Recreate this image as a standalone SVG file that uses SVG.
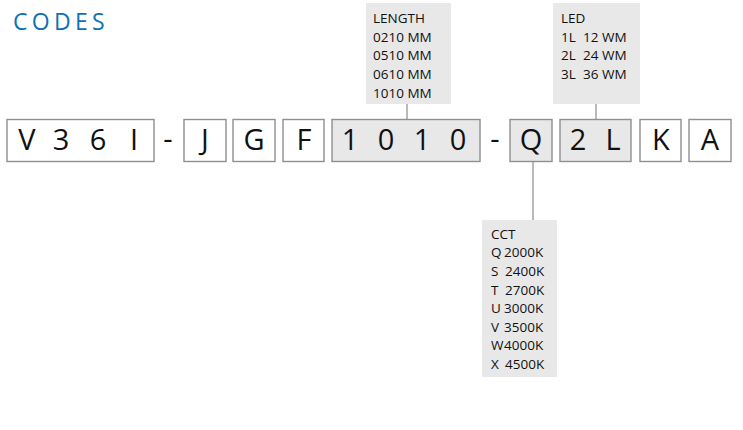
<svg xmlns="http://www.w3.org/2000/svg" width="743" height="430" viewBox="0 0 743 430">
<style>
.box{stroke:#8f8f8f;stroke-width:1.4}
.w{fill:#ffffff}
.g{fill:#e8e8e8}
.lbl{fill:#e8e8e8}
.big{font-family:"Open Sans","Noto Sans",sans-serif;font-size:29px;fill:#111;text-anchor:middle}
.sm{font-family:"Open Sans","Noto Sans",sans-serif;font-size:13.5px;fill:#111}
.conn{stroke:#8a8a8a;stroke-width:1.2;fill:none}
</style>
<rect width="743" height="430" fill="#ffffff"/>
<text x="13" y="29.5" font-family="'Open Sans','Noto Sans',sans-serif" font-size="23" font-weight="500" letter-spacing="4.3" fill="#0f6fb7">CODES</text>
<g id="connectors">
<line class="conn" x1="407" y1="104" x2="407" y2="120"/>
<line class="conn" x1="596" y1="104" x2="596" y2="120"/>
<line class="conn" x1="533" y1="162" x2="533" y2="220"/>
</g>
<g id="length">
<rect class="lbl" x="366" y="3" width="85" height="101"/>
<text class="sm" x="373" y="23">LENGTH</text>
<text class="sm" x="373" y="41.5">0210 MM</text>
<text class="sm" x="373" y="60">0510 MM</text>
<text class="sm" x="373" y="79">0610 MM</text>
<text class="sm" x="373" y="97.5">1010 MM</text>
</g>
<g id="led">
<rect class="lbl" x="553" y="3" width="87" height="101"/>
<text class="sm" x="561" y="23">LED</text>
<text class="sm" x="561" y="41.5">1L<tspan x="583">12 WM</tspan></text>
<text class="sm" x="561" y="60">2L<tspan x="583">24 WM</tspan></text>
<text class="sm" x="561" y="79">3L<tspan x="583">36 WM</tspan></text>
</g>
<g id="cct">
<rect class="lbl" x="482" y="220" width="75" height="157"/>
<text class="sm" x="491" y="238.5">CCT</text>
<text class="sm" x="491" y="257">Q<tspan x="504">2000K</tspan></text>
<text class="sm" x="491" y="276">S<tspan x="505">2400K</tspan></text>
<text class="sm" x="491" y="294.5">T<tspan x="505">2700K</tspan></text>
<text class="sm" x="491" y="313">U<tspan x="504">3000K</tspan></text>
<text class="sm" x="491" y="331.5">V<tspan x="504">3500K</tspan></text>
<text class="sm" x="491" y="350">W<tspan x="504">4000K</tspan></text>
<text class="sm" x="491" y="368.5">X<tspan x="505">4500K</tspan></text>
</g>
<g id="v36i">
<rect class="box w" x="7" y="119.5" width="147" height="42"/>
<text class="big" x="27 61 98 134" y="149.5">V36I</text>
</g>
<text class="big" x="168" y="149">-</text>
<g id="j">
<rect class="box w" x="184" y="119.5" width="42" height="42"/>
<text class="big" x="205" y="149.5">J</text>
</g>
<g id="g">
<rect class="box w" x="233" y="119.5" width="42" height="42"/>
<text class="big" x="254" y="149.5">G</text>
</g>
<g id="f">
<rect class="box w" x="283" y="119.5" width="41" height="42"/>
<text class="big" x="304" y="149.5">F</text>
</g>
<g id="n1010">
<rect class="box g" x="332" y="119.5" width="148" height="42"/>
<text class="big" x="350 386 422 458" y="149.5">1010</text>
</g>
<text class="big" x="495" y="149">-</text>
<g id="q">
<rect class="box g" x="510" y="119.5" width="42" height="42"/>
<text class="big" x="531" y="149.5">Q</text>
</g>
<g id="n2l">
<rect class="box g" x="560" y="119.5" width="71" height="42"/>
<text class="big" x="578 613" y="149.5">2L</text>
</g>
<g id="k">
<rect class="box w" x="640" y="119.5" width="41" height="42"/>
<text class="big" x="661" y="149.5">K</text>
</g>
<g id="a">
<rect class="box w" x="689" y="119.5" width="42" height="42"/>
<text class="big" x="710" y="149.5">A</text>
</g>
</svg>
